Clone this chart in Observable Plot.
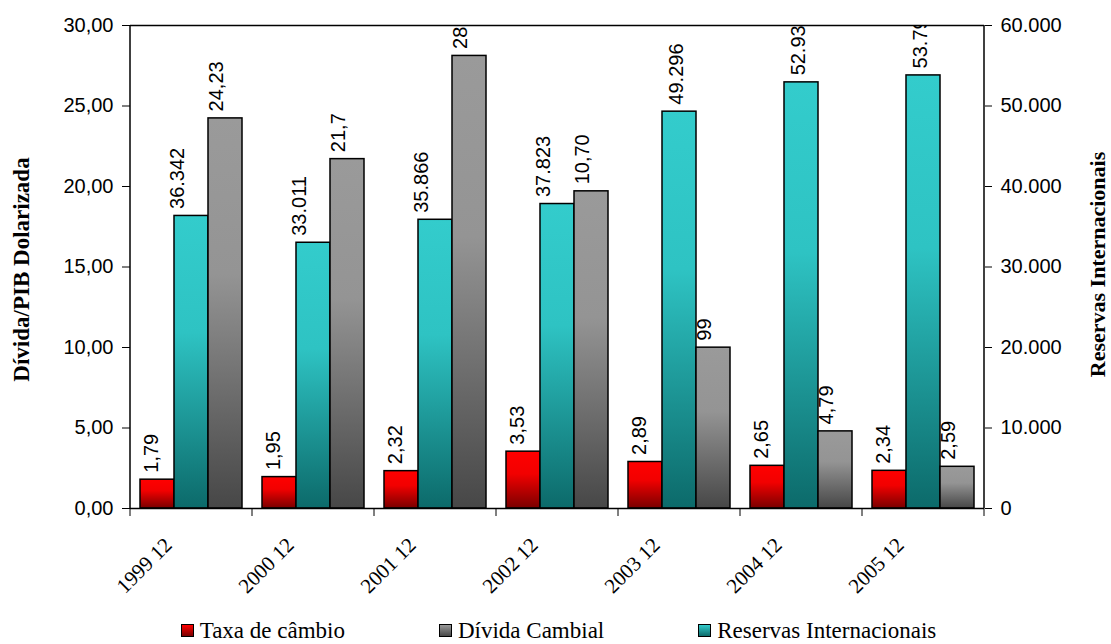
<!DOCTYPE html>
<html>
<head>
<meta charset="utf-8">
<script src="https://cdn.jsdelivr.net/npm/d3@7"></script>
<script src="https://cdn.jsdelivr.net/npm/@observablehq/plot@0.6"></script>
<style>
html,body{margin:0;padding:0;background:#fff;}
#wrap{position:relative;width:1111px;height:644px;overflow:hidden;background:#fff;}
#legend{position:absolute;top:619px;left:3px;width:1111px;text-align:center;white-space:nowrap;
  font-family:'Liberation Serif','Times New Roman',serif;font-size:23px;line-height:1;color:#000;}
#legend .item{margin:0 47px;}
#legend .sw{display:inline-block;width:11px;height:11px;border:1px solid #000;margin-right:6px;vertical-align:baseline;margin-bottom:1px;}
</style>
</head>
<body>
<div id="wrap"><div id="chart"></div><div id="legend"></div></div>
<script>
// ---- data ----
const years = ["1999 12","2000 12","2001 12","2002 12","2003 12","2004 12","2005 12"];
const taxaCambio = [1.79, 1.95, 2.32, 3.53, 2.89, 2.65, 2.34];
const dividaCambial = [24.23, 21.7, 28.11, 19.7, 9.99, 4.79, 2.59];
const dividaLabels = ["24,23", "21,7", "28,11", "10,70", "99", "4,79", "2,59"];
const reservas = [36342, 33011, 35866, 37823, 49296, 52935, 53799];
const leftTicks = [0, 5, 10, 15, 20, 25, 30];
const rightTicks = [0, 10000, 20000, 30000, 40000, 50000, 60000];
const seriesNames = {taxa: "Taxa de câmbio", divida: "Dívida Cambial", reservas: "Reservas Internacionais"};
const leftTitle = "Dívida/PIB Dolarizada";
const rightTitle = "Reservas Internacionais";

// ---- formatting ----
const loc = d3.formatLocale({decimal: ",", thousands: ".", grouping: [3], currency: ["", ""]});
const fmt2 = loc.format(".2f");
const fmtK = loc.format(",d");
const ratio = d3.max(rightTicks) / d3.max(leftTicks); // right axis units per left axis unit

const rows = years.flatMap((year, i) => [
  {year, series: "taxa", yv: taxaCambio[i], label: fmt2(taxaCambio[i])},
  {year, series: "reservas", yv: reservas[i] / ratio, label: fmtK(reservas[i]), shift: dividaCambial[i] > reservas[i] / ratio},
  {year, series: "divida", yv: dividaCambial[i], label: dividaLabels[i]}
]);
const of = s => rows.filter(d => d.series === s);

const labelCommon = {fx: "year", x: "series", y: "yv", text: "label", rotate: -90, textAnchor: "start",
  lineAnchor: "middle", fontSize: 20, fontFamily: "'Liberation Sans Narrow', 'Arial Narrow', 'Liberation Sans', sans-serif",
  dy: -7, clip: "frame", fill: "black"};

const plot = Plot.plot({
  width: 1111, height: 612,
  marginLeft: 128, marginRight: 125, marginTop: 25, marginBottom: 104,
  style: {fontFamily: "'Liberation Sans', Arial, sans-serif", fontSize: "20px", color: "black", background: "white", overflow: "visible"},
  fx: {domain: years, padding: 0, label: null},
  x: {domain: ["taxa", "reservas", "divida"], paddingInner: 0, paddingOuter: 0.25, axis: null},
  y: {domain: [0, d3.max(leftTicks)], label: null},
  marks: [
    Plot.barY(of("taxa"), {fx: "year", x: "series", y: "yv", fill: "url(#gTaxa)", stroke: "black", strokeWidth: 1.5}),
    Plot.barY(of("reservas"), {fx: "year", x: "series", y: "yv", fill: "url(#gRes)", stroke: "black", strokeWidth: 1.5}),
    Plot.barY(of("divida"), {fx: "year", x: "series", y: "yv", fill: "url(#gDiv)", stroke: "black", strokeWidth: 1.5}),
    Plot.text(of("taxa"), {...labelCommon, dx: -6}),
    Plot.text(of("reservas").filter(d => d.shift), {...labelCommon, dx: -14}),
    Plot.text(of("reservas").filter(d => !d.shift), {...labelCommon, dx: -3}),
    Plot.text(of("divida"), {...labelCommon, dx: -9}),
    Plot.ruleY([0, d3.max(leftTicks)], {stroke: "black", strokeWidth: 1.5}),
    Plot.axisY({anchor: "left", ticks: leftTicks, tickFormat: fmt2, tickSize: 8, tickPadding: 9, fontSize: 20, label: null}),
    Plot.axisY({anchor: "right", ticks: rightTicks.map(v => v / ratio), tickFormat: d => fmtK(Math.round(d * ratio)),
      tickSize: 7, tickPadding: 9, fontSize: 20, label: null}),
    Plot.axisFx({anchor: "bottom", tickSize: 0, tickRotate: -45, tickPadding: 33, dx: -23, fontSize: 21,
      fontFamily: "'Liberation Serif', 'Times New Roman', serif", label: null})
  ]
});

// gradients
const svg = d3.select(plot);
const defs = svg.insert("defs", ":first-child");
function grad(id, stops) {
  const g = defs.append("linearGradient").attr("id", id).attr("x1", 0).attr("y1", 0).attr("x2", 0).attr("y2", 1);
  stops.forEach(([o, c]) => g.append("stop").attr("offset", o).attr("stop-color", c));
}
grad("gTaxa", [[0, "#ff0000"], [0.4, "#f20000"], [1, "#7a0000"]]);
grad("gRes", [[0, "#33cccc"], [0.4, "#2ec3c3"], [1, "#0c6a6a"]]);
grad("gDiv", [[0, "#9a9a9a"], [0.4, "#949494"], [1, "#474747"]]);

// axis lines and category boundary ticks, from the plot's own scales
const fx = plot.scale("fx"), y = plot.scale("y");
const bounds = years.map(v => fx.apply(v));
bounds.push(fx.apply(years[years.length - 1]) + fx.bandwidth);
const y0 = y.apply(0), yTop = y.apply(d3.max(leftTicks));
const g = svg.append("g").attr("stroke", "black");
[bounds[0], bounds[bounds.length - 1]].forEach(x =>
  g.append("line").attr("x1", x).attr("x2", x).attr("y1", yTop).attr("y2", y0).attr("stroke-width", 1.5));
bounds.forEach(x => g.append("line").attr("x1", x).attr("x2", x).attr("y1", y0).attr("y2", y0 + 8));

// axis titles
const mid = (yTop + y0) / 2;
svg.append("text").text(leftTitle)
  .attr("transform", `translate(21,${mid + 3}) rotate(-90)`).attr("text-anchor", "middle").attr("dy", "0.35em")
  .attr("font-family", "'Liberation Serif','Times New Roman',serif").attr("font-weight", "bold").attr("font-size", 23);
svg.append("text").text(rightTitle)
  .attr("transform", `translate(1097,${mid - 2}) rotate(-90)`).attr("text-anchor", "middle").attr("dy", "0.35em")
  .attr("font-family", "'Liberation Serif','Times New Roman',serif").attr("font-weight", "bold").attr("font-size", 22);

document.getElementById("chart").appendChild(plot);

// legend
const swatch = {taxa: "linear-gradient(#ff0000,#7a0000)", divida: "linear-gradient(#9a9a9a,#474747)", reservas: "linear-gradient(#33cccc,#0c6a6a)"};
const legend = d3.select("#legend");
["taxa", "divida", "reservas"].forEach(k => {
  const it = legend.append("span").attr("class", "item");
  it.append("span").attr("class", "sw").style("background", swatch[k]);
  it.append("span").text(seriesNames[k]);
});
</script>
</body>
</html>
